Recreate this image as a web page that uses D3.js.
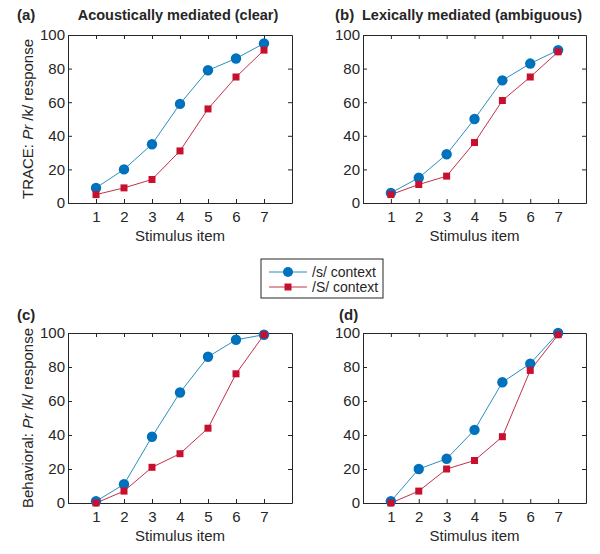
<!DOCTYPE html>
<html>
<head>
<meta charset="utf-8">
<script src="https://cdn.jsdelivr.net/npm/d3@7"></script>
<style>
  body { margin: 0; background: #fff; }
  text { font-family: "Liberation Sans", Arial, sans-serif; fill: #262626; }
</style>
</head>
<body>
<script>
// stimulus items on the continuum
var items = [1, 2, 3, 4, 5, 6, 7];
var yTicks = [0, 20, 40, 60, 80, 100];

// panel (a) TRACE, acoustically mediated
var traceClearS = [9, 20, 35, 59, 79, 86, 95];
var traceClearSh = [5, 9, 14, 31, 56, 75, 91];
// panel (b) TRACE, lexically mediated
var traceAmbS = [6, 15, 29, 50, 73, 83, 91];
var traceAmbSh = [5, 11, 16, 36, 61, 75, 90];
// panel (c) behavioral, clear
var behClearS = [1, 11, 39, 65, 86, 96, 99];
var behClearSh = [0, 7, 21, 29, 44, 76, 99];
// panel (d) behavioral, ambiguous
var behAmbS = [1, 20, 26, 43, 71, 82, 100];
var behAmbSh = [0, 7, 20, 25, 39, 78, 99];

var seriesNames = ["/s/ context", "/S/ context"];

var blue = "#0072BD", blueLine = "#2a8fc0";
var red = "#C8102E", redLine = "#c0324a";

var w = 600, h = 554;
var svg = d3.select("body").append("svg").attr("width", w).attr("height", h);

var panels = [
  { tag: "(a)", title: "Acoustically mediated (clear)", s: traceClearS, sh: traceClearSh,
    left: 68, top: 35, width: 224, height: 168, ylab: "TRACE: ", tagX: 17, tagY: 20, titleX: 178 },
  { tag: "(b)", title: "Lexically mediated (ambiguous)", s: traceAmbS, sh: traceAmbSh,
    left: 363, top: 35, width: 223, height: 168, ylab: null, tagX: 335, tagY: 20, titleX: 472 },
  { tag: "(c)", title: null, s: behClearS, sh: behClearSh,
    left: 68, top: 333, width: 224, height: 170, ylab: "Behavioral: ", tagX: 17, tagY: 320 },
  { tag: "(d)", title: null, s: behAmbS, sh: behAmbSh,
    left: 363, top: 333, width: 223, height: 170, ylab: null, tagX: 339, tagY: 320 }
];

panels.forEach(function(p) {
  var x = d3.scaleLinear().domain([0, 8]).range([0, p.width]);
  var y = d3.scaleLinear().domain([0, 100]).range([p.height, 0]);

  var g = svg.append("g").attr("transform", "translate(" + p.left + "," + p.top + ")");

  // inward ticks on all four sides, matlab style
  var ax = g.append("g").attr("transform", "translate(0," + p.height + ")")
    .call(d3.axisBottom(x).tickValues(items).tickSizeInner(-4).tickSizeOuter(0).tickPadding(8));
  var axTop = g.append("g")
    .call(d3.axisTop(x).tickValues(items).tickSizeInner(-4).tickSizeOuter(0).tickFormat(""));
  var ay = g.append("g")
    .call(d3.axisLeft(y).tickValues(yTicks).tickSizeInner(-4).tickSizeOuter(0).tickPadding(3));
  var ayR = g.append("g").attr("transform", "translate(" + p.width + ",0)")
    .call(d3.axisRight(y).tickValues(yTicks).tickSizeInner(-4).tickSizeOuter(0).tickFormat(""));

  [ax, axTop, ay, ayR].forEach(function(a) {
    a.selectAll("path").attr("stroke", "#262626").attr("stroke-width", 1);
    a.selectAll("line").attr("stroke", "#262626");
    a.selectAll("text").style("font-size", "15px").attr("fill", "#262626");
  });

  g.append("text")
    .attr("x", p.width / 2).attr("y", p.height + 38)
    .attr("text-anchor", "middle").style("font-size", "15px")
    .text("Stimulus item");

  if (p.ylab) {
    var yl = g.append("text")
      .attr("transform", "translate(-35," + (p.height / 2) + ") rotate(-90)")
      .attr("text-anchor", "middle").style("font-size", "15px");
    yl.append("tspan").text(p.ylab);
    yl.append("tspan").style("font-style", "italic").text("Pr");
    yl.append("tspan").text(" /k/ response");
  }

  svg.append("text").attr("x", p.tagX).attr("y", p.tagY)
    .style("font-size", "15px").style("font-weight", "bold").text(p.tag);

  if (p.title) {
    svg.append("text").attr("x", p.titleX).attr("y", p.tagY)
      .attr("text-anchor", "middle")
      .style("font-size", "14.5px").style("font-weight", "bold").text(p.title);
  }

  var line = d3.line()
    .x(function(d, i) { return x(items[i]); })
    .y(function(d) { return y(d); });

  g.append("path").datum(p.s).attr("d", line)
    .attr("fill", "none").attr("stroke", blueLine).attr("stroke-width", 1);
  g.append("path").datum(p.sh).attr("d", line)
    .attr("fill", "none").attr("stroke", redLine).attr("stroke-width", 1);

  g.selectAll(".dot").data(p.s).enter().append("circle")
    .attr("cx", function(d, i) { return x(items[i]); })
    .attr("cy", function(d) { return y(d); })
    .attr("r", 5.2).attr("fill", blue);

  g.selectAll(".sq").data(p.sh).enter().append("rect")
    .attr("x", function(d, i) { return x(items[i]) - 3.5; })
    .attr("y", function(d) { return y(d) - 3.5; })
    .attr("width", 7).attr("height", 7).attr("fill", red);
});

// legend in the middle
var lg = svg.append("g").attr("transform", "translate(261,259)");
lg.append("rect").attr("width", 122).attr("height", 39)
  .attr("fill", "#fff").attr("stroke", "#262626").attr("stroke-width", 1);
seriesNames.forEach(function(name, i) {
  var yy = 13 + i * 15;
  lg.append("line").attr("x1", 8).attr("x2", 46).attr("y1", yy).attr("y2", yy)
    .attr("stroke", i === 0 ? blueLine : redLine).attr("stroke-width", 1);
  if (i === 0) {
    lg.append("circle").attr("cx", 27).attr("cy", yy).attr("r", 5).attr("fill", blue);
  } else {
    lg.append("rect").attr("x", 23.5).attr("y", yy - 3.5).attr("width", 7).attr("height", 7).attr("fill", red);
  }
  lg.append("text").attr("x", 51).attr("y", yy + 5).style("font-size", "14px").text(name);
});
</script>
</body>
</html>
